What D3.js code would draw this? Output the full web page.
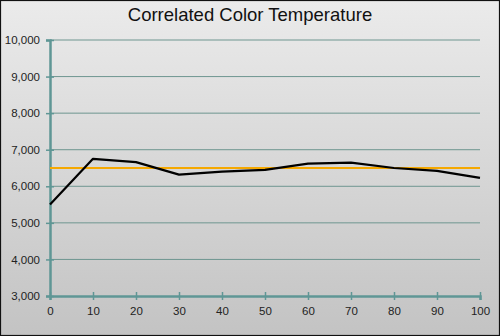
<!DOCTYPE html>
<html>
<head>
<meta charset="utf-8">
<script src="https://cdn.jsdelivr.net/npm/d3@7"></script>
<style>
  html, body { margin: 0; padding: 0; background: #fff; }
  svg { display: block; }
</style>
</head>
<body>
<svg id="chart" width="500" height="336"></svg>
<script>
// Stimulus level (% IRE) and measured correlated color temperature (K)
const levels = [0, 10, 20, 30, 40, 50, 60, 70, 80, 90, 100];
const cct = [5500, 6750, 6660, 6320, 6400, 6450, 6620, 6645, 6500, 6420, 6230];
// D65 reference target
const targetCCT = 6500;
const yTicks = [3000, 4000, 5000, 6000, 7000, 8000, 9000, 10000];
const xTicks = [0, 10, 20, 30, 40, 50, 60, 70, 80, 90, 100];

const W = 500, H = 336;
const svg = d3.select("#chart");

// Panel background: soft vertical grey gradient
const defs = svg.append("defs");
const grad = defs.append("linearGradient")
  .attr("id", "bg").attr("x1", 0).attr("y1", 0).attr("x2", 0).attr("y2", 1);
grad.append("stop").attr("offset", "0%").attr("stop-color", "#ebebeb");
grad.append("stop").attr("offset", "100%").attr("stop-color", "#c3c3c3");

svg.append("rect").attr("x", 0).attr("y", 0).attr("width", W).attr("height", H)
  .attr("fill", "url(#bg)");
svg.append("rect").attr("x", 0.5).attr("y", 0.5).attr("width", W - 1).attr("height", H - 1)
  .attr("fill", "none").attr("stroke", "#111").attr("stroke-width", 1.2);

const x = d3.scaleLinear().domain([0, 100]).range([50, 480]);
const y = d3.scaleLinear().domain([3000, 10000]).range([296, 40]);

const gridColor = "#6e9690";
const axisColor = "#5f9695";

// Horizontal gridlines
svg.append("g").selectAll("line").data(yTicks.filter(d => d !== 3000)).join("line")
  .attr("x1", x(0)).attr("x2", x(100))
  .attr("y1", d => y(d)).attr("y2", d => y(d))
  .attr("stroke", gridColor).attr("stroke-width", 1);

// Y axis
const yAxis = d3.axisLeft(y).tickValues(yTicks).tickSize(4)
  .tickFormat(d3.format(","));
const gy = svg.append("g").attr("transform", `translate(${x(0)},0)`).call(yAxis);
gy.select(".domain").attr("stroke", axisColor).attr("stroke-width", 2.5);
gy.selectAll(".tick line").attr("stroke", axisColor).attr("stroke-width", 1.5)
  .attr("x2", 4).attr("x1", -4);
gy.selectAll(".tick text")
  .attr("x", -10).attr("fill", "#222")
  .style("font-family", "Arial, 'Liberation Sans', sans-serif").style("font-size", "11.5px");

// X axis
const xAxis = d3.axisBottom(x).tickValues(xTicks).tickSize(4);
const gx = svg.append("g").attr("transform", `translate(0,${y(3000)})`).call(xAxis);
gx.select(".domain").attr("stroke", axisColor).attr("stroke-width", 2.5);
gx.selectAll(".tick line").attr("stroke", axisColor).attr("stroke-width", 1.5)
  .attr("y1", -4).attr("y2", 4);
gx.selectAll(".tick text")
  .attr("y", 11).attr("fill", "#222")
  .style("font-family", "Arial, 'Liberation Sans', sans-serif").style("font-size", "11.5px");

// Target line
svg.append("line")
  .attr("x1", x(0)).attr("x2", x(100))
  .attr("y1", y(targetCCT)).attr("y2", y(targetCCT))
  .attr("stroke", "#f5a800").attr("stroke-width", 2.2);

// Measured CCT
const line = d3.line().x((d, i) => x(levels[i])).y(d => y(d));
svg.append("path").datum(cct)
  .attr("d", line)
  .attr("fill", "none").attr("stroke", "#000").attr("stroke-width", 2.2)
  .attr("stroke-linejoin", "round");

// Title
svg.append("text")
  .attr("x", 250).attr("y", 21)
  .attr("text-anchor", "middle")
  .attr("fill", "#111")
  .style("font-family", "Arial, 'Liberation Sans', sans-serif").style("font-size", "18.5px")
  .text("Correlated Color Temperature");
</script>
</body>
</html>
